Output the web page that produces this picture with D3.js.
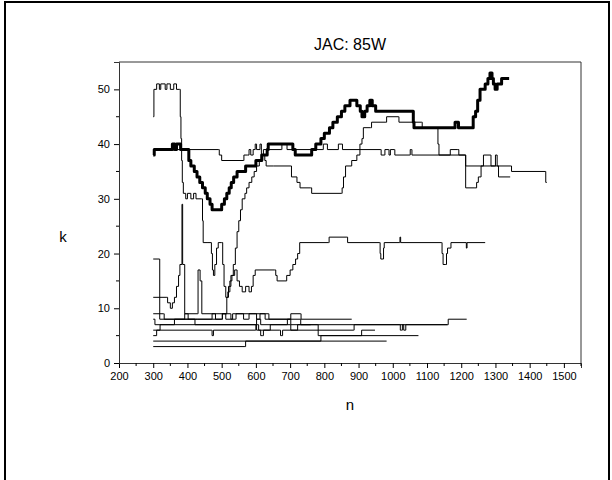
<!DOCTYPE html>
<html>
<head>
<meta charset="utf-8">
<script src="https://cdn.jsdelivr.net/npm/d3@7"></script>
<style>
  html, body { margin: 0; padding: 0; background: #fff; }
  svg { display: block; }
  text { font-family: "Liberation Sans", Arial, Helvetica, sans-serif; fill: #000; }
</style>
</head>
<body>
<svg id="chart" width="612" height="480"></svg>
<script>
// ---- data (n, k) step series ----
const titleText = "JAC: 85W";
const xLabel = "n";
const yLabel = "k";
const xTicks = [200,300,400,500,600,700,800,900,1000,1100,1200,1300,1400,1500];
const yTicks = [0,10,20,30,40,50];

const seriesThick = [[300,38],[303,39],[355,39],[356,40],[362,40],[363,39],[368,40],[378,40],[380,39],[400,39],[404,37],[410,36],[420,35],[428,34],[436,33],[444,32],[452,31],[458,30],[466,29],[472,28],[495,28],[500,29],[508,30],[515,31],[522,32],[528,33],[535,34],[545,35],[560,35],[570,36],[595,36],[600,37],[612,37],[617,38],[630,38],[633,39],[636,40],[705,40],[708,39],[715,38],[758,38],[763,39],[775,40],[790,41],[800,42],[815,43],[825,44],[838,45],[850,46],[860,47],[875,48],[888,48],[895,47],[905,46],[910,45],[918,46],[925,47],[933,48],[940,47],[950,46],[1058,46],[1060,44],[1062,43],[1180,43],[1182,44],[1190,44],[1192,43],[1230,43],[1235,45],[1242,46],[1248,48],[1255,50],[1265,50],[1270,51],[1278,52],[1284,53],[1290,52],[1294,51],[1299,50],[1305,51],[1312,51],[1318,52],[1340,52]];

const seriesA = [[300,45],[302,50],[310,51],[318,50],[322,51],[335,50],[340,51],[350,50],[360,51],[368,50],[377,50],[379,45],[381,41],[383,37],[385,33],[388,31],[395,30],[400,31],[410,30],[418,31],[425,30],[441,30],[444,26],[446,22],[460,22],[470,20],[473,17],[476,16],[480,18],[485,21],[490,22],[500,22],[503,18],[507,14],[512,12],[518,13],[524,15],[530,16],[538,17],[545,15],[552,14],[560,13],[570,14],[580,13],[587,14],[592,16],[598,17],[655,17],[658,16],[662,15],[685,15],[690,16],[700,17],[708,18],[716,19],[722,20],[728,22],[812,22],[814,23],[866,23],[868,22],[962,22],[963,20],[965,19],[972,19],[973,21],[975,22],[1020,22],[1021,23],[1023,22],[1142,22],[1144,20],[1147,18],[1155,18],[1157,20],[1160,21],[1170,22],[1214,22],[1215,21],[1217,22],[1270,22]];

const seriesB = [[300,39],[490,39],[493,38],[500,37],[563,37],[565,38],[575,38],[580,39],[585,38],[592,39],[598,40],[602,39],[612,40],[616,38],[622,39],[675,39],[676,40],[690,40],[691,39],[796,39],[797,40],[808,40],[809,39],[840,39],[841,40],[852,40],[853,39],[963,39],[966,38],[976,38],[977,39],[988,39],[989,38],[992,38],[993,39],[1005,39],[1006,38],[1050,38],[1051,39],[1055,39],[1056,38],[1167,38],[1168,39],[1190,39],[1193,38],[1211,38],[1213,36],[1345,36],[1347,35],[1445,35],[1447,33],[1450,33]];

const seriesC = [[300,12],[340,12],[342,11],[350,10],[356,11],[362,12],[368,14],[374,16],[378,18],[384,29],[386,18],[392,9],[398,9],[430,9],[431,17],[437,15],[442,9],[512,9],[515,12],[520,14],[527,16],[534,18],[540,21],[545,24],[550,26],[555,28],[560,30],[568,31],[573,32],[580,33],[588,34],[595,35],[602,36],[610,37],[620,38],[626,37],[630,36],[651,36],[700,36],[704,34],[720,33],[729,32],[760,32],[763,31],[850,31],[852,32],[856,34],[862,36],[880,37],[895,38],[904,40],[910,41],[914,43],[935,43],[938,44],[980,44],[982,45],[1016,45],[1018,44],[1084,44],[1086,43],[1130,43],[1132,40],[1135,38],[1211,38],[1213,32],[1240,32],[1245,33],[1250,34],[1258,36],[1265,38],[1285,38],[1287,36],[1297,36],[1300,38],[1305,36],[1309,34],[1343,34]];

const seriesD = [[300,19],[318,19],[319,8],[470,8],[472,9],[480,9],[482,8],[500,8],[502,9],[525,9],[527,8],[530,8],[532,9],[562,9],[564,8],[578,8],[580,9],[636,9],[638,8],[729,8],[731,7],[760,7]];

const seriesE = [[300,3],[568,3],[570,4],[982,4]];
const seriesF = [[300,4],[788,4],[790,5],[1075,5]];
const seriesH = [[300,5],[310,6],[470,6],[472,5],[476,6],[598,6],[600,7],[606,7],[608,6],[612,6],[614,5],[620,5],[622,6],[670,6],[672,5],[676,5],[678,6],[885,6],[887,7],[1020,7],[1022,6],[1026,6],[1028,7],[1030,7],[1032,6],[1036,6],[1038,7],[1160,7],[1162,8],[1216,8]];
const seriesI = [[300,6],[320,7],[600,7],[602,6],[640,6],[642,7],[700,7],[702,6],[720,6],[722,7],[780,7],[782,5],[907,5],[909,6],[948,6]];
const seriesJ = [[300,9],[330,9],[332,8],[390,8],[392,9],[400,9],[402,8],[430,8],[500,8],[502,9],[510,9],[512,8],[540,8],[542,9],[600,9],[602,8],[610,8],[612,9],[625,9],[627,8],[700,8],[702,9],[730,9],[732,8],[880,8]];
const seriesK = [[300,8],[305,7],[360,7],[362,8],[420,8],[422,7],[600,7],[602,8],[612,8],[614,7],[690,7],[692,8],[700,8],[702,7],[1160,7]];

const thinSeries = [seriesA, seriesB, seriesC, seriesD, seriesE, seriesF, seriesH, seriesI, seriesJ, seriesK];

// ---- layout ----
const svg = d3.select("#chart");
const plot = {left: 119, right: 581, top: 62, bottom: 363};

// outer frame
svg.append("rect").attr("x", 5).attr("y", 2).attr("width", 604).attr("height", 482)
  .attr("fill", "none").attr("stroke", "#000").attr("stroke-width", 2);

const x = d3.scaleLinear().domain([200, 1550]).range([plot.left, plot.right]);
const y = d3.scaleLinear().domain([0, 55]).range([plot.bottom, plot.top]);

// plot box top/right
svg.append("path")
  .attr("d", `M${plot.left},${plot.top}H${plot.right}V${plot.bottom}`)
  .attr("fill", "none").attr("stroke", "#333").attr("stroke-width", 1);

// x axis
const xAxis = d3.axisBottom(x).tickValues(xTicks).tickSize(5).tickPadding(4).tickFormat(d3.format("d"));
const gx = svg.append("g").attr("transform", `translate(0,${plot.bottom})`).call(xAxis);
gx.select(".domain").attr("stroke", "#333");
gx.selectAll("text").attr("font-size", 11).style("font-family", "Liberation Sans, Arial, sans-serif");
const xMinor = d3.range(250, 1550, 100);
gx.selectAll(".minor").data(xMinor).enter().append("line")
  .attr("x1", d => x(d)).attr("x2", d => x(d)).attr("y1", 0).attr("y2", 3)
  .attr("stroke", "#000");
gx.append("line").attr("x1", x(1550)).attr("x2", x(1550)).attr("y1", 0).attr("y2", 3).attr("stroke", "#000");

// y axis
const yAxis = d3.axisLeft(y).tickValues(yTicks).tickSize(5).tickPadding(4);
const gy = svg.append("g").attr("transform", `translate(${plot.left},0)`).call(yAxis);
gy.select(".domain").attr("stroke", "#333");
gy.selectAll("text").attr("font-size", 11).style("font-family", "Liberation Sans, Arial, sans-serif");
const yMinor = d3.range(5, 55, 10);
gy.selectAll(".minor").data(yMinor).enter().append("line")
  .attr("y1", d => y(d)).attr("y2", d => y(d)).attr("x1", 0).attr("x2", -3)
  .attr("stroke", "#000");

// titles
svg.append("text").attr("x", (plot.left + plot.right) / 2).attr("y", 50)
  .attr("text-anchor", "middle").attr("font-size", 16).text(titleText);
svg.append("text").attr("x", (plot.left + plot.right) / 2).attr("y", 410)
  .attr("text-anchor", "middle").attr("font-size", 15).text(xLabel);
svg.append("text").attr("x", 63).attr("y", 242)
  .attr("text-anchor", "middle").attr("font-size", 15).text(yLabel);

// lines
const line = d3.line().x(d => x(d[0])).y(d => y(d[1])).curve(d3.curveStepAfter);
const g = svg.append("g");
g.selectAll("path.thin").data(thinSeries).enter().append("path")
  .attr("class", "thin")
  .attr("d", line).attr("fill", "none").attr("stroke", "#000").attr("stroke-width", 1);
g.append("path").datum(seriesThick)
  .attr("d", line).attr("fill", "none").attr("stroke", "#000").attr("stroke-width", 3)
  .attr("stroke-linejoin", "round");
</script>
</body>
</html>
